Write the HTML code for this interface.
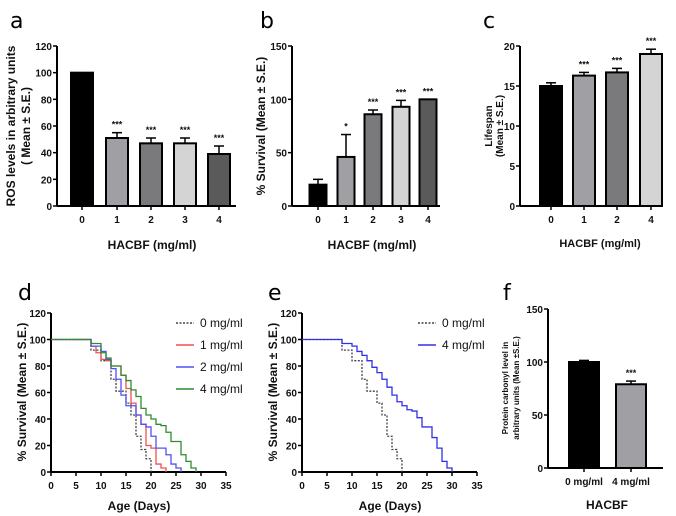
<!DOCTYPE html>
<html><head><meta charset="utf-8"><style>
body{margin:0;background:#fff;width:676px;height:516px;overflow:hidden}
svg{display:block;font-family:"Liberation Sans",sans-serif}
.t{font-size:10px;font-weight:bold;fill:#111}
.lab{font-size:12px;font-weight:bold;fill:#111}
.pl{font-size:22px;font-family:"DejaVu Sans",sans-serif;fill:#000}
</style></head><body>
<svg id="fig" width="676" height="516" viewBox="0 0 676 516"></svg>
<script>
// Panel a data
const aCats=["0","1","2","3","4"];
const aVals=[100,51,47,47,39];
const aErr=[0,4,4,4,6];
const aStars=["","***","***","***","***"];
const aFill=["#000","#a0a0a4","#7a7a7c","#d4d4d4","#5a5a5a"];
const aTicks=[0,20,40,60,80,100,120];
// Panel b
const bCats=["0","1","2","3","4"];
const bVals=[20,46,86,93,100];
const bErr=[5,21,4,6,0];
const bStars=["","*","***","***","***"];
const bFill=["#000","#a0a0a4","#7a7a7c","#d4d4d4","#5a5a5a"];
const bTicks=[0,50,100,150];
// Panel c
const cCats=["0","1","2","4"];
const cVals=[15,16.3,16.7,19];
const cErr=[0.4,0.4,0.5,0.6];
const cStars=["","***","***","***"];
const cFill=["#000","#a0a0a4","#7a7a7c","#d4d4d4"];
const cTicks=[0,5,10,15,20];
// Panel f
const fCats=["0 mg/ml","4 mg/ml"];
const fVals=[100,79];
const fErr=[1.5,3];
const fStars=["","***"];
const fFill=["#000","#a0a0a4"];
const fTicks=[0,50,100,150];
// Survival curves: [day, survival%]
const days=[0,8,9,10,11,12,13,14,15,16,17,18,19,20,21,22,23,24,25,26,27,28,29,30];
const s0=[100,92,92,84,84,70,61,61,52,43,27,17,10,0];
const s1=[100,95,90,85,84,80,80,73,63,52,43,36,20,18,6,3,0];
const s2=[100,95,95,91,85,78,70,58,50,50,43,36,34,27,18,18,13,6,3,0];
const s4=[100,97,97,90,86,80,80,73,69,62,57,48,43,40,36,35,30,23,23,13,8,3,0];
const e4=[100,97,97,95,91,88,84,79,75,70,64,58,53,50,47,46,41,34,34,26,18,8,3,0];
const survTicksY=[0,20,40,60,80,100,120];
const survTicksX=[0,5,10,15,20,25,30,35];

const svg=document.getElementById('fig');
const NS="http://www.w3.org/2000/svg";
function el(tag,attrs,parent){const e=document.createElementNS(NS,tag);for(const k in attrs)e.setAttribute(k,attrs[k]);(parent||svg).appendChild(e);return e;}
function txt(s,x,y,cls,anchor,parent,rot){const e=el('text',{x:x,y:y,class:cls,'text-anchor':anchor||'middle'},parent);if(rot)e.setAttribute('transform','rotate(-90 '+x+' '+y+')');e.textContent=s;return e;}

function barPanel(name,o){
  const g=el('g',{});
  
  
  const ymax=o.ticks[o.ticks.length-1];
  const Y=v=>o.y0-(v/ymax)*(o.y0-o.y1);
  const X=i=>o.xs[i];
  el('line',{x1:o.ax,y1:o.y1,x2:o.ax,y2:o.y0,stroke:'#000','stroke-width':2},g);
  el('line',{x1:o.ax,y1:o.y0,x2:o.axEnd,y2:o.y0,stroke:'#000','stroke-width':2},g);
  o.ticks.forEach(t=>{el('line',{x1:o.ax-4,y1:Y(t),x2:o.ax,y2:Y(t),stroke:'#000','stroke-width':1.5},g);txt(t,o.ax-5,Y(t)+4,'t','end',g);});
  o.vals.forEach((v,i)=>{
    const x=X(i);
    const b=el('rect',{x:x-o.bw/2,y:Y(v),width:o.bw,height:o.y0-Y(v),fill:o.fill[i],stroke:'#000','stroke-width':2},g);
    
    
    if(o.err[i]>0){const ye=Y(v+o.err[i]);el('line',{x1:x,y1:Y(v),x2:x,y2:ye,stroke:'#000','stroke-width':1.5},g);el('line',{x1:x-5,y1:ye,x2:x+5,y2:ye,stroke:'#000','stroke-width':1.5},g);}
    if(o.stars[i])txt(o.stars[i],x,Y(v+o.err[i])-5,'t','middle',g).setAttribute('style','font-size:9px');
    el('line',{x1:x,y1:o.y0,x2:x,y2:o.y0+4,stroke:'#000','stroke-width':1.5},g);
    txt(o.cats[i],x,o.y0+17,'t','middle',g);
  });
}
barPanel('panel-a',{cats:aCats,vals:aVals,err:aErr,stars:aStars,fill:aFill,ticks:aTicks,ax:57,axEnd:236,y0:206,y1:46,xs:[82,117,151,185,219],bw:22});
barPanel('panel-b',{cats:bCats,vals:bVals,err:bErr,stars:bStars,fill:bFill,ticks:bTicks,ax:292,axEnd:440,y0:206,y1:46,xs:[318,346,373,401,428],bw:17});
barPanel('panel-c',{cats:cCats,vals:cVals,err:cErr,stars:cStars,fill:cFill,ticks:cTicks,ax:520,axEnd:663,y0:206,y1:46,xs:[551,584,617,651],bw:22});
barPanel('panel-f',{cats:fCats,vals:fVals,err:fErr,stars:fStars,fill:fFill,ticks:fTicks,ax:548,axEnd:663,y0:468,y1:309,xs:[584,631],bw:30});

function survPanel(name,ax,series,legend,lx){
  const g=el('g',{});
  
  
  const y0=472,y1=313;
  const X=d=>ax+d/35*175, Y=v=>y0-v/120*(y0-y1);
  el('line',{x1:ax,y1:y1,x2:ax,y2:y0,stroke:'#000','stroke-width':2},g);
  el('line',{x1:ax,y1:y0,x2:X(35),y2:y0,stroke:'#000','stroke-width':2},g);
  survTicksY.forEach(t=>{el('line',{x1:ax-4,y1:Y(t),x2:ax,y2:Y(t),stroke:'#000','stroke-width':1.5},g);txt(t,ax-5,Y(t)+4,'t','end',g);});
  survTicksX.forEach(t=>{el('line',{x1:X(t),y1:y0,x2:X(t),y2:y0+4,stroke:'#000','stroke-width':1.5},g);txt(t,X(t),y0+17,'t','middle',g);});
  series.forEach(s=>{
    let d='M'+X(0)+','+Y(s.v[0]);
    for(let i=1;i<s.v.length;i++){d+=' H'+X(days[i])+' V'+Y(s.v[i]);}
    const p=el('path',{d:d,fill:'none',stroke:s.c,'stroke-width':1.3},g);
    if(s.dash)p.setAttribute('stroke-dasharray','2,1.5');
    
    
  });
  series.forEach((s,i)=>{
    const ly=323+i*22;
    const lg=el('g',{},g);
    
    
    const l=el('line',{x1:lx,y1:ly,x2:lx+18,y2:ly,stroke:s.c,'stroke-width':1.5},lg);
    if(s.dash)l.setAttribute('stroke-dasharray','2,1.5');
    txt(s.n,lx+24,ly+4,'t','start',lg).setAttribute('style','font-weight:normal;font-size:12px');
  });
}
survPanel('panel-d',51,[{n:'0 mg/ml',v:s0,c:'#444',dash:1},{n:'1 mg/ml',v:s1,c:'#f05050'},{n:'2 mg/ml',v:s2,c:'#5050f0'},{n:'4 mg/ml',v:s4,c:'#2e8b2e'}],1,176);
survPanel('panel-e',302,[{n:'0 mg/ml',v:s0,c:'#444',dash:1},{n:'4 mg/ml',v:e4,c:'#3030e8'}],1,418);

// labels
[['a',10,28],['b',260,28],['c',483,28],['d',18,300],['e',268,300],['f',503,300]].forEach(p=>{const t=txt(p[0],p[1],p[2],'pl','start');});
txt('HACBF (mg/ml)',152,249,'lab');
txt('HACBF (mg/ml)',372,249,'lab');
txt('HACBF (mg/ml)',600,247,'lab').setAttribute('style','font-size:11px');
txt('Age (Days)',139,510,'lab');
txt('Age (Days)',390,510,'lab');
txt('HACBF',607,509,'lab');
txt('ROS levels in arbitrary units',15,126,'lab','middle',null,1);
txt('( Mean ± S.E.)',30,126,'lab','middle',null,1);
txt('% Survival (Mean ± S.E.)',265,126,'lab','middle',null,1);
txt('Lifespan',492,126,'t','middle',null,1);
txt('(Mean ± S.E.)',503,126,'t','middle',null,1);
txt('% Survival (Mean ± S.E.)',26,392,'lab','middle',null,1);
txt('% Survival (Mean ± S.E.)',277,392,'lab','middle',null,1);
txt('Protein carbonyl level in',508,388,'t','middle',null,1).setAttribute('style','font-size:8px');
txt('arbitrary units (Mean ±S.E.)',519,388,'t','middle',null,1).setAttribute('style','font-size:8px');
</script>
</body></html>
